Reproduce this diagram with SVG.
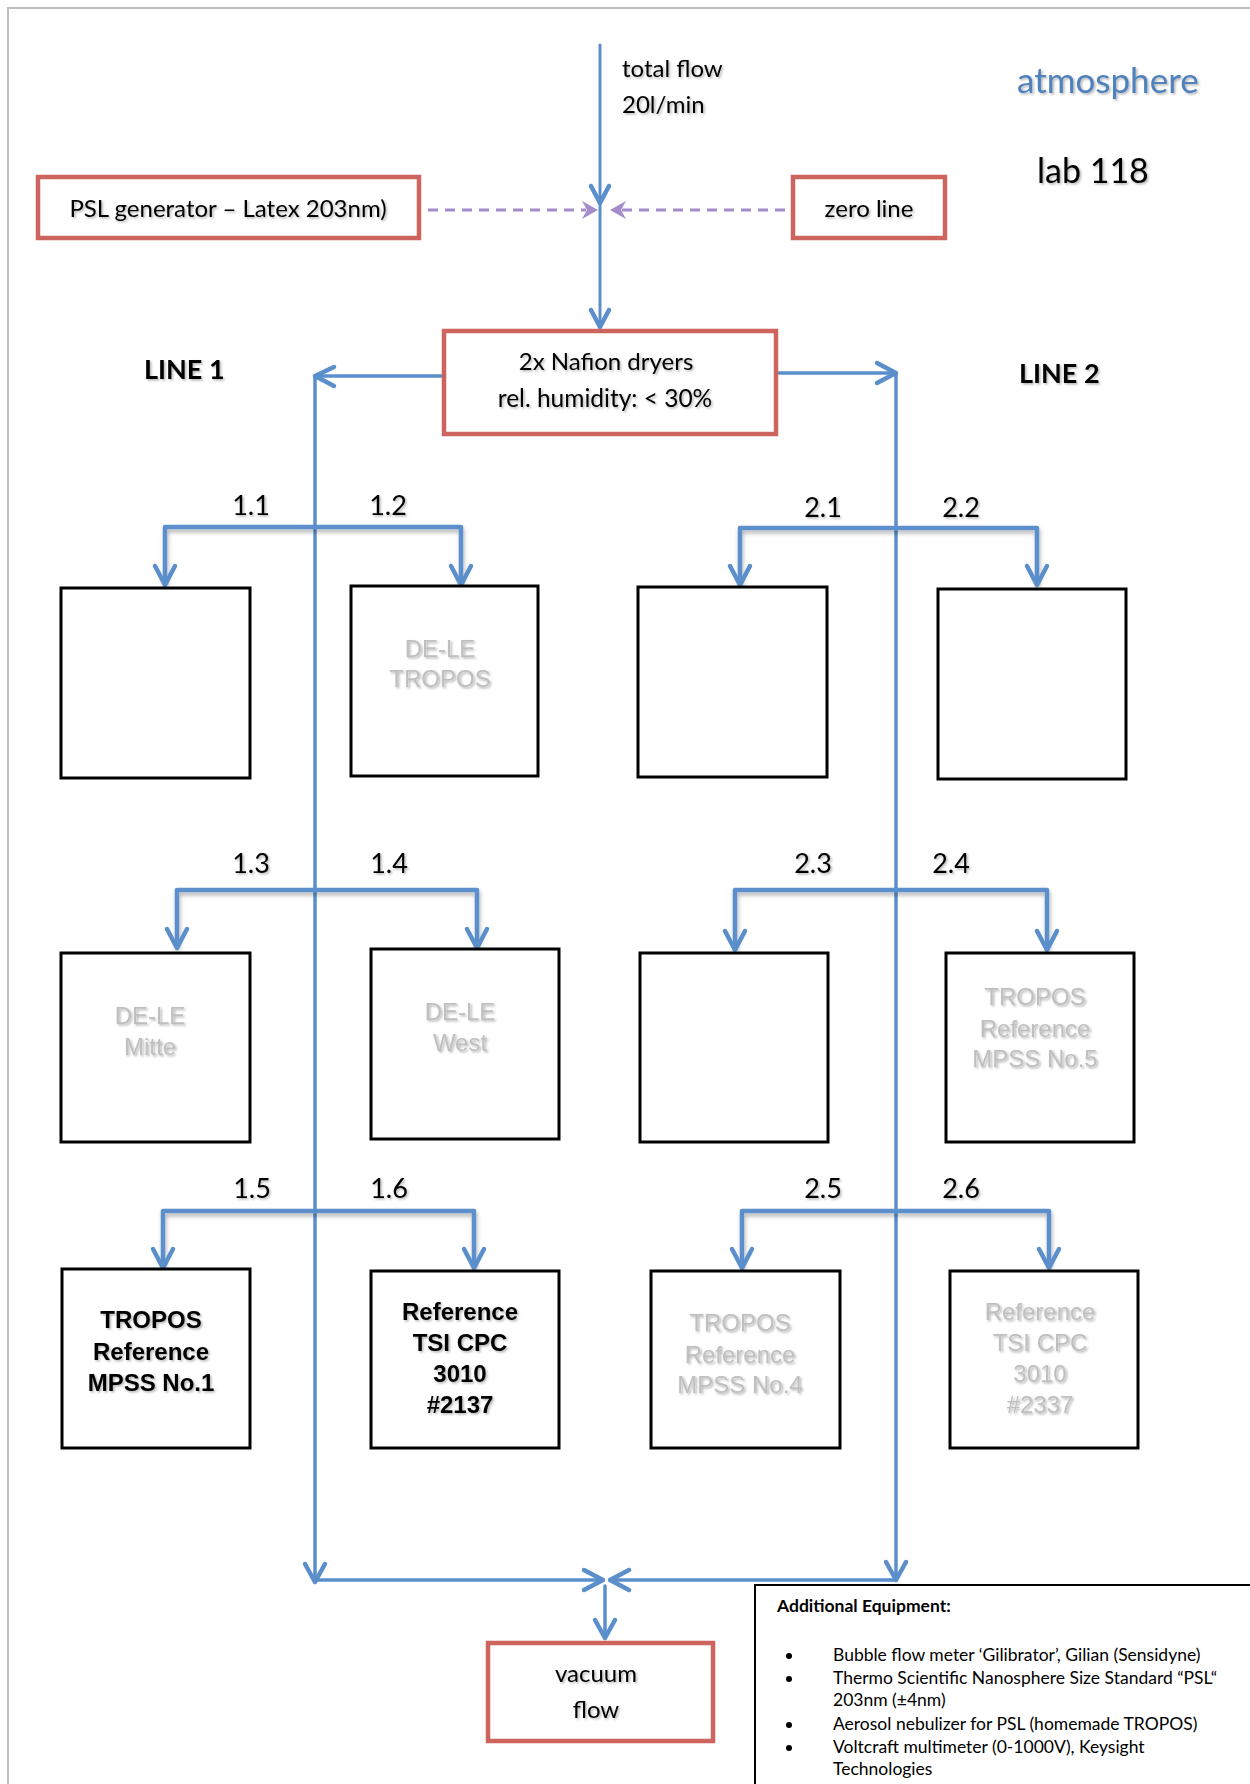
<svg xmlns="http://www.w3.org/2000/svg" width="1250" height="1784" viewBox="0 0 1250 1784">
<defs>
<filter id="sh" x="-10%" y="-30%" width="130%" height="170%"><feDropShadow dx="1.5" dy="1.5" stdDeviation="1" flood-color="#000" flood-opacity="0.3"/></filter>
<filter id="bsh" x="-5%" y="-100%" width="110%" height="400%"><feDropShadow dx="1" dy="3" stdDeviation="2" flood-color="#000" flood-opacity="0.3"/></filter>
<style>
.c{font-family:Lato,"Liberation Sans",sans-serif;fill:#000}
.a{font-family:"Liberation Sans",Arial,sans-serif;text-anchor:middle;font-size:24px}
.g{fill:#bfbfbf}
.k{fill:#000;font-weight:bold}
.red{fill:#fff;stroke:#cd645e;stroke-width:4.5}
.blk{fill:#fff;stroke:#000;stroke-width:3}
.ln{fill:none;stroke:#5b8fcb;stroke-linecap:round;stroke-linejoin:round}
.ah{fill:none;stroke:#5b8fcb;stroke-width:4.5;stroke-linecap:round;stroke-linejoin:round}
.pd{fill:none;stroke:#a48bc9;stroke-width:3;stroke-dasharray:10 7}
.pa{fill:#a48bc9}
.num{font-size:27px;text-anchor:middle}
.eq{font-size:17.5px}
</style>
</defs>
<rect width="1250" height="1784" fill="#fff"/>
<path d="M8 1784 V8 H1250" fill="none" stroke="#c0c0c0" stroke-width="2"/>
<line x1="44" y1="127" x2="1219" y2="127" stroke="#000" stroke-width="4.5" filter="url(#bsh)"/>

<g id="labels">
<text class="c" x="622" y="77" font-size="24" filter="url(#sh)">total flow</text>
<text class="c" x="622" y="113" font-size="24" filter="url(#sh)">20l/min</text>
<text class="c" x="1017" y="93" font-size="35" style="fill:#4f81bd" filter="url(#sh)">atmosphere</text>
<text class="c" x="1037" y="183" font-size="34" filter="url(#sh)">lab 118</text>
<text class="c" x="144" y="379" font-size="27" font-weight="bold" filter="url(#sh)">LINE 1</text>
<text class="c" x="1019" y="383" font-size="27" font-weight="bold" filter="url(#sh)">LINE 2</text>
<text class="c num" x="251" y="515" filter="url(#sh)">1.1</text>
<text class="c num" x="388" y="515" filter="url(#sh)">1.2</text>
<text class="c num" x="823" y="517" filter="url(#sh)">2.1</text>
<text class="c num" x="961" y="517" filter="url(#sh)">2.2</text>
<text class="c num" x="251" y="873" filter="url(#sh)">1.3</text>
<text class="c num" x="389" y="873" filter="url(#sh)">1.4</text>
<text class="c num" x="813" y="873" filter="url(#sh)">2.3</text>
<text class="c num" x="951" y="873" filter="url(#sh)">2.4</text>
<text class="c num" x="252" y="1198" filter="url(#sh)">1.5</text>
<text class="c num" x="389" y="1198" filter="url(#sh)">1.6</text>
<text class="c num" x="823" y="1198" filter="url(#sh)">2.5</text>
<text class="c num" x="961" y="1198" filter="url(#sh)">2.6</text>
</g>

<g id="connectors">
<line class="ln" x1="600" y1="45" x2="600" y2="327" stroke-width="3"/>
<polyline class="ah" points="591,186 600,203 609,186"/>
<polyline class="ah" points="591,310 600,327 609,310"/>
<line class="pd" x1="428" y1="210" x2="586" y2="210"/>
<polygon class="pa" points="598,210 582,201 587,210 582,219"/>
<line class="pd" x1="785" y1="210" x2="622" y2="210"/>
<polygon class="pa" points="610,210 626,201 621,210 626,219"/>
<polyline class="ln" points="442,376 315,376 315,1582" stroke-width="3.5"/>
<polyline class="ah" points="334,367 315,376 334,386"/>
<polyline class="ln" points="778,373 896,373 896,1580" stroke-width="3.5"/>
<polyline class="ah" points="877,363 896,373 877,383"/>
<polyline class="ah" points="305,1564 315,1582 325,1564"/>
<polyline class="ah" points="886,1562 896,1580 906,1562"/>
<line class="ln" x1="315" y1="1580" x2="603" y2="1580" stroke-width="3.5"/>
<polyline class="ah" points="584,1570 603,1580 584,1590"/>
<line class="ln" x1="896" y1="1580" x2="610" y2="1580" stroke-width="3.5"/>
<polyline class="ah" points="629,1570 610,1580 629,1590"/>
<line class="ln" x1="605" y1="1586" x2="605" y2="1638" stroke-width="3.5"/>
<polyline class="ah" points="595,1620 605,1638 615,1620"/>
<g filter="url(#bsh)">
<polyline class="ln" points="165,583 165,527 461,527 461,583" stroke-width="4.5"/>
<polyline class="ln" points="740,583 740,528 1037,528 1037,583" stroke-width="4.5"/>
<polyline class="ln" points="177,946 177,890 477,890 477,946" stroke-width="4.5"/>
<polyline class="ln" points="735,948 735,890 1047,890 1047,948" stroke-width="4.5"/>
<polyline class="ln" points="163,1266 163,1211 474,1211 474,1266" stroke-width="4.5"/>
<polyline class="ln" points="742,1266 742,1211 1049,1211 1049,1266" stroke-width="4.5"/>
</g>
<polyline class="ah" points="155,566 165,585 175,566"/>
<polyline class="ah" points="451,566 461,585 471,566"/>
<polyline class="ah" points="730,566 740,585 750,566"/>
<polyline class="ah" points="1027,566 1037,585 1047,566"/>
<polyline class="ah" points="167,929 177,948 187,929"/>
<polyline class="ah" points="467,929 477,948 487,929"/>
<polyline class="ah" points="725,931 735,950 745,931"/>
<polyline class="ah" points="1037,931 1047,950 1057,931"/>
<polyline class="ah" points="153,1249 163,1268 173,1249"/>
<polyline class="ah" points="464,1249 474,1268 484,1249"/>
<polyline class="ah" points="732,1249 742,1268 752,1249"/>
<polyline class="ah" points="1039,1249 1049,1268 1059,1249"/>
</g>

<g id="psl"><rect class="red" x="38" y="177" width="381" height="61"/>
<text class="c" x="228" y="217" font-size="24" text-anchor="middle" filter="url(#sh)">PSL generator – Latex 203nm)</text></g>
<g id="zero"><rect class="red" x="793" y="177" width="152" height="61"/>
<text class="c" x="869" y="217" font-size="24" text-anchor="middle" filter="url(#sh)">zero line</text></g>
<g id="nafion"><rect class="red" x="444" y="331" width="332" height="103"/>
<text class="c" x="606" y="370" font-size="24" text-anchor="middle" filter="url(#sh)">2x Nafion dryers</text>
<text class="c" x="605" y="407" font-size="24.5" text-anchor="middle" filter="url(#sh)">rel. humidity: &lt; 30%</text></g>

<g id="box11"><rect class="blk" x="61" y="588" width="189" height="190"/></g>
<g id="box12"><rect class="blk" x="351" y="586" width="187" height="190"/>
<text class="a g" x="440" y="657" filter="url(#sh)">DE-LE</text><text class="a g" x="440" y="687" filter="url(#sh)">TROPOS</text></g>
<g id="box21"><rect class="blk" x="638" y="587" width="189" height="190"/></g>
<g id="box22"><rect class="blk" x="938" y="589" width="188" height="190"/></g>
<g id="box13"><rect class="blk" x="61" y="953" width="189" height="189"/>
<text class="a g" x="150" y="1024" filter="url(#sh)">DE-LE</text><text class="a g" x="150" y="1055" filter="url(#sh)">Mitte</text></g>
<g id="box14"><rect class="blk" x="371" y="949" width="188" height="190"/>
<text class="a g" x="460" y="1020" filter="url(#sh)">DE-LE</text><text class="a g" x="460" y="1051" filter="url(#sh)">West</text></g>
<g id="box23"><rect class="blk" x="640" y="953" width="188" height="189"/></g>
<g id="box24"><rect class="blk" x="946" y="953" width="188" height="189"/>
<text class="a g" x="1035" y="1005" filter="url(#sh)">TROPOS</text><text class="a g" x="1035" y="1037" filter="url(#sh)">Reference</text><text class="a g" x="1035" y="1067" filter="url(#sh)">MPSS No.5</text></g>
<g id="box15"><rect class="blk" x="62" y="1269" width="188" height="179"/>
<text class="a k" x="151" y="1328" filter="url(#sh)">TROPOS</text><text class="a k" x="151" y="1360" filter="url(#sh)">Reference</text><text class="a k" x="151" y="1391" filter="url(#sh)">MPSS No.1</text></g>
<g id="box16"><rect class="blk" x="371" y="1271" width="188" height="177"/>
<text class="a k" x="460" y="1320" filter="url(#sh)">Reference</text><text class="a k" x="460" y="1351" filter="url(#sh)">TSI CPC</text><text class="a k" x="460" y="1382" filter="url(#sh)">3010</text><text class="a k" x="460" y="1413" filter="url(#sh)">#2137</text></g>
<g id="box25"><rect class="blk" x="651" y="1271" width="189" height="177"/>
<text class="a g" x="740" y="1331" filter="url(#sh)">TROPOS</text><text class="a g" x="740" y="1363" filter="url(#sh)">Reference</text><text class="a g" x="740" y="1393" filter="url(#sh)">MPSS No.4</text></g>
<g id="box26"><rect class="blk" x="950" y="1271" width="188" height="177"/>
<text class="a g" x="1040" y="1320" filter="url(#sh)">Reference</text><text class="a g" x="1040" y="1351" filter="url(#sh)">TSI CPC</text><text class="a g" x="1040" y="1382" filter="url(#sh)">3010</text><text class="a g" x="1040" y="1413" filter="url(#sh)">#2337</text></g>

<g id="vacuum"><rect class="red" x="488" y="1643" width="225" height="98"/>
<text class="c" x="596" y="1682" font-size="24" text-anchor="middle" filter="url(#sh)">vacuum</text>
<text class="c" x="596" y="1718" font-size="24" text-anchor="middle" filter="url(#sh)">flow</text></g>

<g id="equipment"><rect x="755" y="1585" width="500" height="230" fill="#fff" stroke="#000" stroke-width="2"/>
<text class="c eq" x="777" y="1612" font-weight="bold">Additional Equipment:</text>
<circle cx="789" cy="1656" r="3"/><text class="c eq" x="833" y="1661">Bubble flow meter ‘Gilibrator’, Gilian (Sensidyne)</text>
<circle cx="789" cy="1679" r="3"/><text class="c eq" x="833" y="1684">Thermo Scientific Nanosphere Size Standard “PSL“</text>
<text class="c eq" x="833" y="1706">203nm (±4nm)</text>
<circle cx="789" cy="1725" r="3"/><text class="c eq" x="833" y="1730">Aerosol nebulizer for PSL (homemade TROPOS)</text>
<circle cx="789" cy="1748" r="3"/><text class="c eq" x="833" y="1753">Voltcraft multimeter (0-1000V), Keysight</text>
<text class="c eq" x="833" y="1775">Technologies</text>
</g>
</svg>
